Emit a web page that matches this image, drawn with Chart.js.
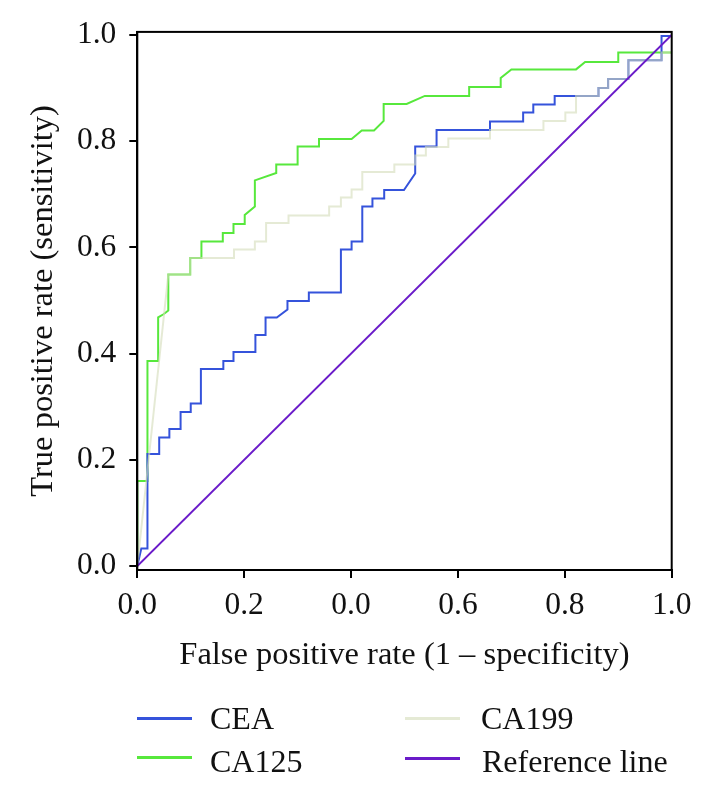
<!DOCTYPE html>
<html><head><meta charset="utf-8">
<script src="https://cdn.jsdelivr.net/npm/chart.js@4.4.0/dist/chart.umd.min.js"></script>
<style>
html,body{margin:0;padding:0;background:#fff;}
#wrap{position:relative;width:711px;height:788px;overflow:hidden;background:#fff;}
#wrap canvas{position:absolute;left:0;top:0;}
.lg{position:absolute;font-family:'Liberation Serif',serif;font-size:32px;line-height:36px;color:#111;white-space:nowrap;}
.sw{position:absolute;height:3px;width:55px;}
</style></head><body>
<div id="wrap"><canvas id="c" width="711" height="788"></canvas><div id="legend"></div></div>
<script>
// ---- data ----
const xTicks = [0, 0.2, 0.4, 0.6, 0.8, 1.0];
const xTickLabels = ['0.0', '0.2', '0.0', '0.6', '0.8', '1.0'];
const yTicks = [0, 0.2, 0.4, 0.6, 0.8, 1.0];
const yTickLabels = ['0.0', '0.2', '0.4', '0.6', '0.8', '1.0'];
const xTitle = 'False positive rate (1 – specificity)';
const yTitle = 'True positive rate (sensitivity)';

const seriesNames = ['CEA', 'CA125', 'CA199', 'Reference line'];

const ceaFpr = [0, 0.0075, 0.019, 0.019, 0.041, 0.041, 0.060, 0.060, 0.081, 0.081, 0.100, 0.100, 0.119, 0.119, 0.161, 0.161, 0.180, 0.180, 0.221, 0.221, 0.240, 0.240, 0.261, 0.281, 0.281, 0.321, 0.321, 0.381, 0.381, 0.401, 0.401, 0.421, 0.421, 0.440, 0.440, 0.462, 0.462, 0.499, 0.520, 0.520, 0.560, 0.560, 0.660, 0.660, 0.722, 0.722, 0.741, 0.741, 0.781, 0.781, 0.863, 0.863, 0.881, 0.881, 0.919, 0.919, 0.981, 0.981, 1.0, 1.0];
const ceaTpr = [0, 0.033, 0.033, 0.211, 0.211, 0.242, 0.242, 0.258, 0.258, 0.290, 0.290, 0.306, 0.306, 0.371, 0.371, 0.386, 0.386, 0.403, 0.403, 0.435, 0.435, 0.468, 0.468, 0.483, 0.499, 0.499, 0.515, 0.515, 0.596, 0.596, 0.611, 0.611, 0.677, 0.677, 0.692, 0.692, 0.708, 0.708, 0.739, 0.790, 0.790, 0.821, 0.821, 0.837, 0.837, 0.854, 0.854, 0.869, 0.869, 0.885, 0.885, 0.900, 0.900, 0.917, 0.917, 0.952, 0.952, 0.998, 0.998, 1.0];

const ca125Fpr = [0, 0, 0.019, 0.019, 0.039, 0.039, 0.049, 0.058, 0.058, 0.099, 0.099, 0.120, 0.120, 0.160, 0.160, 0.180, 0.180, 0.201, 0.201, 0.220, 0.220, 0.260, 0.260, 0.300, 0.300, 0.340, 0.340, 0.401, 0.420, 0.443, 0.461, 0.461, 0.504, 0.538, 0.621, 0.621, 0.680, 0.680, 0.700, 0.821, 0.838, 0.900, 0.900, 1.0];
const ca125Tpr = [0, 0.160, 0.160, 0.386, 0.386, 0.468, 0.474, 0.481, 0.549, 0.549, 0.580, 0.580, 0.611, 0.611, 0.627, 0.627, 0.644, 0.644, 0.661, 0.677, 0.726, 0.740, 0.756, 0.756, 0.790, 0.790, 0.804, 0.804, 0.820, 0.820, 0.838, 0.870, 0.870, 0.885, 0.885, 0.902, 0.902, 0.919, 0.935, 0.935, 0.949, 0.949, 0.967, 0.967];

const ca199Fpr = [0, 0.058, 0.099, 0.099, 0.181, 0.181, 0.220, 0.220, 0.241, 0.241, 0.283, 0.283, 0.359, 0.359, 0.381, 0.381, 0.401, 0.401, 0.421, 0.421, 0.481, 0.481, 0.520, 0.520, 0.540, 0.540, 0.582, 0.582, 0.660, 0.660, 0.760, 0.760, 0.801, 0.801, 0.821, 0.821, 0.863, 0.863, 0.881, 0.881, 0.919, 0.919, 0.981, 0.981, 1.0];
const ca199Tpr = [0, 0.549, 0.549, 0.580, 0.580, 0.596, 0.596, 0.611, 0.611, 0.646, 0.646, 0.660, 0.660, 0.677, 0.677, 0.694, 0.694, 0.709, 0.709, 0.742, 0.742, 0.756, 0.756, 0.773, 0.773, 0.789, 0.789, 0.805, 0.805, 0.821, 0.821, 0.838, 0.838, 0.854, 0.854, 0.885, 0.885, 0.900, 0.900, 0.917, 0.917, 0.952, 0.952, 0.967, 0.967];

const refFpr = [0, 1];
const refTpr = [0, 1];

// ---- styles ----
const colCEA = '#3553db';
const colCA125 = '#57e83c';
const colCA199 = 'rgba(212,220,185,0.6)';
const colRef = '#6a1bc9';
const FONT = 'Liberation Serif';
const TXT = '#111';

const toPts = (xs, ys) => xs.map((x, i) => ({x: x, y: ys[i]}));

const frame = {
  id: 'frame',
  afterDraw(chart) {
    const a = chart.chartArea, c = chart.ctx;
    c.save();
    c.strokeStyle = '#000';
    c.lineWidth = 2;
    c.strokeRect(a.left, a.top, a.right - a.left, a.bottom - a.top);
    c.restore();
  }
};

const line = (label, xs, ys, color, order) => ({
  label, data: toPts(xs, ys), borderColor: color, backgroundColor: color,
  borderWidth: 2, pointRadius: 0, tension: 0, fill: false, order
});

new Chart(document.getElementById('c'), {
  type: 'line',
  data: {datasets: [
    line(seriesNames[3], refFpr, refTpr, colRef, 0),
    line(seriesNames[2], ca199Fpr, ca199Tpr, colCA199, 1),
    line(seriesNames[0], ceaFpr, ceaTpr, colCEA, 2),
    line(seriesNames[1], ca125Fpr, ca125Tpr, colCA125, 3)
  ]},
  options: {
    responsive: false, animation: false,
    layout: {padding: {left: 0, right: 39.3, top: 26.7, bottom: 113}},
    plugins: {legend: {display: false}, tooltip: {enabled: false}},
    scales: {
      x: {
        type: 'linear', min: 0, max: 1,
        afterBuildTicks: s => { s.ticks = xTicks.map(v => ({value: v})); },
        afterFit: s => { s.height = 105; },
        ticks: {callback: (v, i) => xTickLabels[i], font: {family: FONT, size: 31.5}, color: TXT, padding: 9, maxRotation: 0, autoSkip: false},
        grid: {drawOnChartArea: false, drawTicks: true, tickLength: 8, color: '#000', tickWidth: 2, lineWidth: 2},
        border: {display: true, color: '#000', width: 2},
        title: {display: true, text: xTitle, font: {family: FONT, size: 32.5}, color: TXT, padding: {top: 0, bottom: 0}}
      },
      y: {
        type: 'linear', min: -0.0075, max: 1.0056,
        afterBuildTicks: s => { s.ticks = yTicks.map(v => ({value: v})); },
        afterFit: s => { s.width = 137.3; },
        ticks: {callback: (v, i) => yTickLabels[i], font: {family: FONT, size: 31.5}, color: TXT, padding: 13, autoSkip: false},
        grid: {drawOnChartArea: false, drawTicks: true, tickLength: 8, color: '#000', tickWidth: 2, lineWidth: 2},
        border: {display: true, color: '#000', width: 2},
        title: {display: true, text: yTitle, font: {family: FONT, size: 32.5}, color: TXT, padding: {top: 24, bottom: 0}}
      }
    }
  },
  plugins: [frame]
});

// ---- HTML legend (two columns) ----
const legendItems = [
  {name: seriesNames[0], color: colCEA, lineX: 137, textX: 210, lineY: 718, cy: 718},
  {name: seriesNames[1], color: colCA125, lineX: 137, textX: 210, lineY: 757, cy: 761},
  {name: seriesNames[2], color: colCA199, lineX: 405, textX: 481, lineY: 718, cy: 718},
  {name: seriesNames[3], color: colRef, lineX: 405, textX: 482, lineY: 758, cy: 761}
];
const lg = document.getElementById('legend');
legendItems.forEach(it => {
  const sw = document.createElement('div');
  sw.className = 'sw';
  sw.style.left = it.lineX + 'px';
  sw.style.top = (it.lineY - 1.5) + 'px';
  sw.style.background = it.color;
  lg.appendChild(sw);
  const t = document.createElement('div');
  t.className = 'lg';
  t.style.left = it.textX + 'px';
  t.style.top = (it.cy - 18) + 'px';
  t.textContent = it.name;
  lg.appendChild(t);
});
</script>
</body></html>
